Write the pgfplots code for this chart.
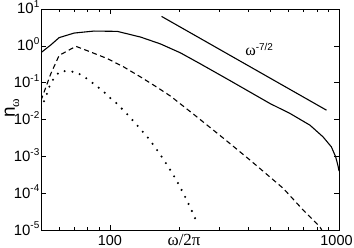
\documentclass[border=0pt]{standalone}
\usepackage{pgfplots}
\pgfplotsset{compat=1.18}
\usepackage{fontspec}
\setmainfont{Liberation Sans}
\newfontfamily\serif{Liberation Serif}
\newcommand{\tl}[1]{10\raisebox{0.42em}{\fontsize{10}{10}\selectfont #1}}
\begin{document}
\begin{tikzpicture}
\begin{axis}[
  at={(0,0)}, anchor=south west,
  scale only axis, width=298bp, height=221bp,
  xmode=log, ymode=log,
  xmin=50, xmax=1000, ymin=1e-5, ymax=10,
  xtick={100,1000}, xticklabels={100,1000\hspace*{5bp}},
  minor xtick={60,70,80,90,200,300,400,500,600,700,800,900},
  ytick={1e-5,1e-4,1e-3,1e-2,1e-1,1,10},
  yticklabels={\tl{-5},\tl{-4},\tl{-3},\tl{-2},\tl{-1},\tl{0},\tl{1}},
  yminorticks=false,
  tick align=inside,
  major tick length=5bp, minor tick length=3.5bp,
  tick style={black, line width=0.6bp},
  axis line style={line width=0.8bp},
  xticklabel style={anchor=base, yshift=-15.5bp, inner sep=0pt, font=\fontsize{14.5}{14.5}\selectfont},
  yticklabel style={anchor=base east, yshift=-5bp, xshift=-1.5bp, inner sep=0pt, font=\fontsize{15}{15}\selectfont},
  xlabel={{\serif\fontsize{17}{17}\selectfont ω/2π}},
  every axis x label/.style={at={(axis description cs:0.48,0)}, anchor=base, yshift=-15.5bp, inner sep=0pt},
  ylabel={{\fontsize{19}{19}\selectfont n\raisebox{-0.22em}{\serif\fontsize{13}{13}\selectfont ω}}},
  every axis y label/.style={at={(axis description cs:-0.0973,0.55)}, rotate=90, anchor=center, inner sep=0pt},
]
% solid
\addplot[line width=1.1bp] coordinates {
(50,0.654) (55.2,1.06) (60,1.67) (69.7,2.22) (85.2,2.52) (107.7,2.47)
(136,1.73) (166,1.13) (203,0.646) (248,0.325) (335,0.113) (500,0.0271)
(611,0.0146) (747,0.00701) (852,0.00337) (926,0.00181) (967,0.00097)
(991,0.00054) (1000,0.0004)
};
% dashed
\addplot[line width=1.1bp, dash pattern=on 5bp off 3.5bp] coordinates {
(50,0.033) (55.2,0.176) (60,0.55) (71,0.97) (82.4,0.68) (97.4,0.45)
(115,0.266) (136,0.143) (160,0.076) (184,0.043) (236,0.0127) (313,0.0031)
(409,7.9e-4) (571,1.35e-4) (697,3.5e-5) (824,1.23e-5) (841,1e-5)
};
% dotted
\addplot[line width=2.3bp, line cap=round, dash pattern=on 0bp off 7.8bp] coordinates {
(50,0.020) (52.5,0.041) (54.3,0.076) (56.2,0.116) (58.1,0.159) (61,0.207)
(65.6,0.203) (71,0.195) (76.6,0.149) (81.8,0.111) (87.5,0.081) (93.6,0.058)
(99,0.041) (105.9,0.029) (119,0.0139) (132.4,0.0066) (147.8,0.0030)
(163.4,0.00127) (178.8,5.5e-4) (195,2.26e-4) (210.5,9.2e-5) (226.4,3.6e-5)
(242,1.4e-5)
};
% reference slope
\addplot[line width=1.1bp] coordinates {(168,6.3) (882,0.0179)};
\node[anchor=base west, inner sep=0pt] at (axis cs:389,0.553)
  {{\serif\fontsize{16}{16}\selectfont ω}\raisebox{0.5em}{\fontsize{10}{10}\selectfont -7/2}};
\end{axis}
\pgfresetboundingbox
\path (-41bp,-18bp) rectangle (313bp,230bp);
\end{tikzpicture}
\end{document}
